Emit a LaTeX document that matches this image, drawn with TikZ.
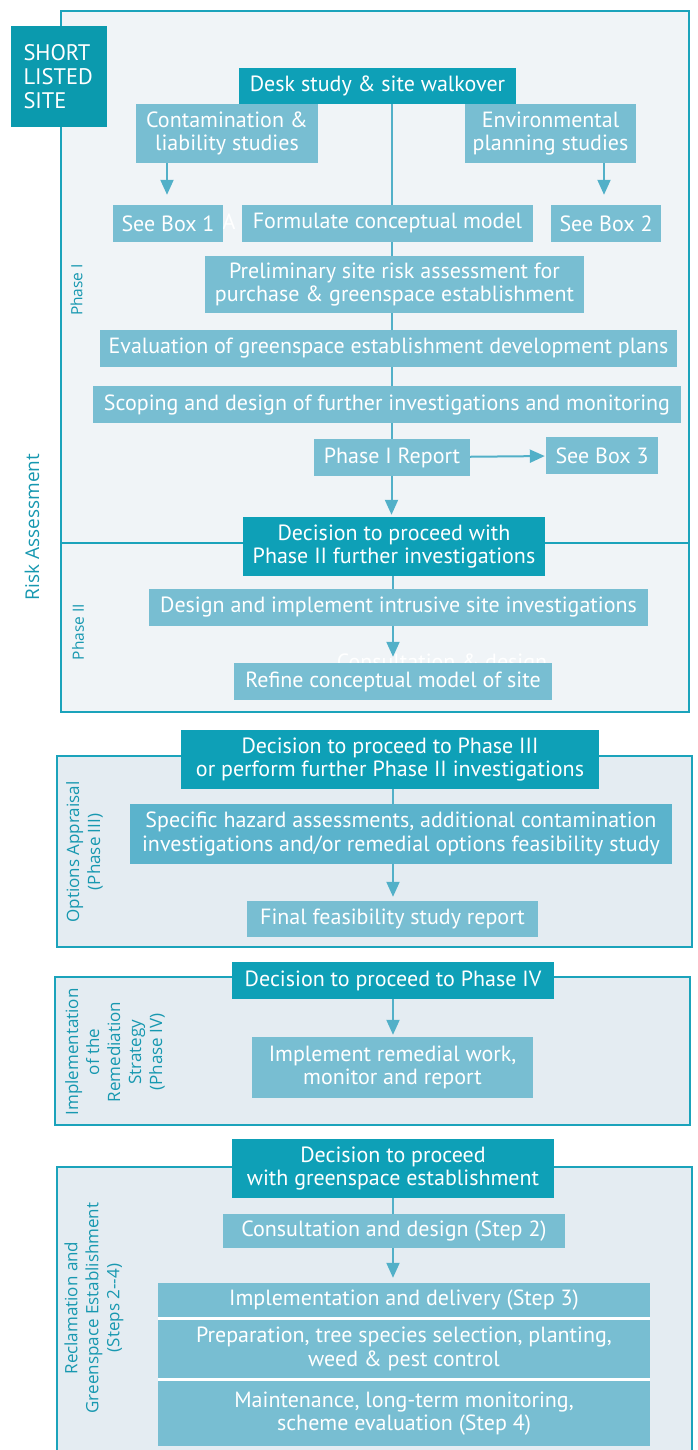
\documentclass[tikz,border=0pt]{standalone}
\usepackage{fontspec}
\setmainfont{PT Sans}
\newfontfamily\sidefont{Open Sans}
\usetikzlibrary{arrows.meta}
\definecolor{deepteal}{HTML}{0EA0B7}
\definecolor{siteteal}{HTML}{0B9AAE}
\definecolor{paleteal}{HTML}{78BED2}
\definecolor{midteal}{HTML}{5BB3CC}
\definecolor{rimteal}{HTML}{1BA3BB}
\definecolor{flowteal}{HTML}{52B0C8}
\definecolor{labelteal}{HTML}{1798B0}
\definecolor{paleback}{HTML}{F0F4F7}
\definecolor{greyback}{HTML}{E4ECF2}
\pgfdeclarelayer{frames}
\pgfdeclarelayer{wires}
\pgfsetlayers{frames,wires,main}
\tikzset{
  stage/.style={fill=paleteal, text=white, inner sep=0pt, align=center,
    font=\fontsize{22}{23.5}\selectfont},
  decision/.style={stage, fill=deepteal},
  ghost/.style={text=white, inner sep=0pt, font=\fontsize{22}{23.5}\selectfont},
  frame/.style={draw=rimteal, line width=2.4pt},
  flow/.style={draw=flowteal, line width=2pt},
  flowarrow/.style={flow, -{Triangle[length=15pt,width=13pt]}},
  sidelabel/.style={text=labelteal, rotate=90, align=center, inner sep=0pt,
    font=\sidefont\fontsize{17}{21}\selectfont},
}
% box from its corners: style, name, x1, y1, x2, y2, text
\newcommand{\putbox}[7]{%
  \node[#1, minimum width={(#5-#3)*1pt}, minimum height={(#6-#4)*1pt}]
    (#2) at ({(#3+#5)/2},{(#4+#6)/2}) {#7};}

\begin{document}
\begin{tikzpicture}[x=1pt,y=-1pt]
  \useasboundingbox (0,0) rectangle (697,1450);

  \begin{pgfonlayer}{frames}
    \draw[frame, fill=paleback] (61,11) rectangle (689,712);
    \draw[frame] (61,543) -- (689,543);
    \draw[frame, fill=greyback] (57,756) rectangle (692,947);
    \draw[frame, fill=greyback] (55,977) rectangle (690,1125);
    \draw[frame, fill=greyback] (57,1167) rectangle (692,1480);
    \fill[white] (158,1310) rectangle (650,1390);
  \end{pgfonlayer}

  \node[ghost] (ghostA) at (229,222) {A};
  \node[ghost] (ghostconsult) at (442,664) {Consultation \& design};

  \node[decision, fill=siteteal, align=left, text width=70pt, inner xsep=13pt,
    minimum height=101pt, font=\fontsize{22.5}{24}\selectfont]
    (site) at (58.5,76.5) {SHORT\\LISTED\\SITE};

  \putbox{decision}{desk}{239}{68}{516}{104}{Desk study \& site walkover}
  \putbox{stage}{contam}{136}{104}{318}{163}{Contamination \&\\liability studies}
  \putbox{stage}{envplan}{465}{104}{636}{163}{Environmental\\planning studies}
  \putbox{stage}{boxone}{113}{205}{223}{242}{See Box 1}
  \putbox{stage}{formulate}{242}{205}{533}{242}{Formulate conceptual model}
  \putbox{stage}{boxtwo}{551}{205}{661}{242}{See Box 2}
  \putbox{stage}{prelim}{205}{256}{584}{313}{Preliminary site risk assessment for\\purchase \& greenspace establishment}
  \putbox{stage}{evaluate}{100}{330}{677}{367}{Evaluation of greenspace establishment development plans}
  \putbox{stage}{scoping}{93}{386}{681}{423}{Scoping and design of further investigations and monitoring}
  \putbox{stage}{report}{314}{439}{470}{476}{Phase I Report}
  \putbox{stage}{boxthree}{546}{437}{658}{474}{See Box 3}
  \putbox{decision}{dectwo}{243}{517}{545}{576}{Decision to proceed with\\Phase II further investigations}
  \putbox{stage}{intrusive}{149}{589}{648}{626}{Design and implement intrusive site investigations}
  \putbox{stage}{refine}{234}{663}{552}{700}{Refine conceptual model of site}

  \putbox{decision}{decthree}{181}{730}{599}{789}{Decision to proceed to Phase III\\or perform further Phase II investigations}
  \putbox{stage, fill=midteal}{hazard}{130}{804}{672}{864}{Specific hazard assessments, additional contamination\\investigations and/or remedial options feasibility study}
  \putbox{stage}{feasible}{247}{901}{538}{937}{Final feasibility study report}

  \putbox{decision}{decfour}{232}{962}{554}{999}{Decision to proceed to Phase IV}
  \putbox{stage}{remedial}{252}{1037}{533}{1098}{Implement remedial work,\\monitor and report}

  \putbox{decision}{decfive}{232}{1139}{554}{1198}{Decision to proceed\\with greenspace establishment}
  \putbox{stage}{consult}{223}{1214}{565}{1248}{Consultation and design (Step 2)}
  \putbox{stage}{deliver}{158}{1283}{650}{1317}{Implementation and delivery (Step 3)}
  \putbox{stage}{prepare}{158}{1320}{650}{1378}{Preparation, tree species selection, planting,\\weed \& pest control}
  \putbox{stage}{maintain}{158}{1381}{650}{1446}{Maintenance, long-term monitoring,\\scheme evaluation (Step 4)}

  \node[sidelabel, font=\sidefont\fontsize{19}{21}\selectfont] (risklabel) at (32,527) {Risk Assessment};
  \node[sidelabel, font=\sidefont\fontsize{15.5}{18}\selectfont] (phaseonelabel) at (76.5,290) {Phase I};
  \node[sidelabel, font=\sidefont\fontsize{15.5}{18}\selectfont] (phasetwolabel) at (78,632) {Phase II};
  \node[sidelabel] (optionslabel) at (84.5,852) {Options Appraisal\\(Phase III)};
  \node[sidelabel] (remedylabel) at (115,1052) {Implementation\\of the\\Remediation\\Strategy\\(Phase IV)};
  \node[sidelabel] (greenlabel) at (94,1308) {Reclamation and\\Greenspace Establishment\\(Steps 2--4)};

  \coordinate (spine) at (391.5,0);
  \coordinate (lowspine) at (393,0);
  \begin{pgfonlayer}{wires}
    \draw[flowarrow, shorten >=2pt] (desk.south -| spine) -- (dectwo.north -| spine);
    \draw[flowarrow, shorten >=10pt] (contam.south -| 167,0) -- (boxone.north -| 167,0);
    \draw[flowarrow, shorten >=10pt] (envplan.south -| 604,0) -- (boxtwo.north -| 604,0);
    \draw[flowarrow, shorten >=1pt] (report) -- (boxthree);
    \draw[flow] (dectwo.south -| lowspine) -- (intrusive.north -| lowspine);
    \draw[flowarrow, shorten >=6pt] (intrusive.south -| lowspine) -- (refine.north -| lowspine);
    \draw[flow] (decthree.south -| lowspine) -- (hazard.north -| lowspine);
    \draw[flowarrow, shorten >=4pt] (hazard.south -| lowspine) -- (feasible.north -| lowspine);
    \draw[flowarrow, shorten >=2pt] (decfour.south -| lowspine) -- (remedial.north -| lowspine);
    \draw[flow] (decfive.south -| lowspine) -- (consult.north -| lowspine);
    \draw[flowarrow, shorten >=5pt] (consult.south -| lowspine) -- (deliver.north -| lowspine);
  \end{pgfonlayer}
\end{tikzpicture}
\end{document}
